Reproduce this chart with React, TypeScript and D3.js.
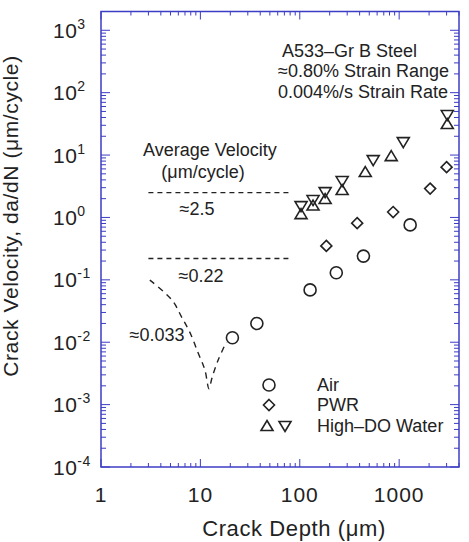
import React from "react";
import * as d3 from "d3";

// ---- data ----
const airX = [21, 37, 127, 233, 437, 1290];
const airY = [0.0118, 0.02, 0.069, 0.13, 0.24, 0.76];
const pwrX = [185, 378, 870, 2050, 3000];
const pwrY = [0.35, 0.81, 1.22, 2.9, 6.4];
const upX = [103, 136, 180, 267, 456, 832, 3050];
const upY = [1.13, 1.55, 1.97, 2.75, 5.34, 9.6, 31.4];
const downX = [103, 136, 180, 267, 548, 1100, 3050];
const downY = [1.52, 1.9, 2.55, 3.83, 8.3, 16.1, 43.8];

const avgLevels = [2.5, 0.22];
const avgRange = [3, 80];
const curveX = [3.1, 5.2, 6.5, 7.9, 9.5, 11.1, 12.2, 13.1, 15.1, 18.2];
const curveY = [0.099, 0.047, 0.025, 0.014, 0.0067, 0.0036, 0.0018, 0.0027, 0.0052, 0.01];

const xTickVals = [1, 10, 100, 1000];
const xTickLabels = ["1", "10", "100", "1000"];
const yTickExps = [-4, -3, -2, -1, 0, 1, 2, 3];

const W = 469, H = 542;
const L = 101, R = 459, T = 11.5, B = 467;
const FONT = "'Liberation Sans', Arial, Helvetica, sans-serif";
const BLUE = "#3c3cc4";
const INK = "#222";

export default function App() {
  const x = d3.scaleLog().domain([1, 4000]).range([L, R]);
  const y = d3.scaleLog().domain([1e-4, 2000]).range([B, T]);

  const xMinor: number[] = [];
  for (let d = 1; d <= 1000; d *= 10)
    for (let k = 2; k <= 9; k++) if (d * k <= 4000) xMinor.push(d * k);
  const yMinor: number[] = [];
  for (let e = -4; e <= 3; e++)
    for (let k = 2; k <= 9; k++) if (k * Math.pow(10, e) <= 2000) yMinor.push(k * Math.pow(10, e));

  const curveLine = d3
    .line<number>()
    .x((_, i) => x(curveX[i]))
    .y((v) => y(v))
    .curve(d3.curveCatmullRom.alpha(0.5));

  const tri = (cx: number, cy: number, up: boolean) => {
    const s = up ? 1 : -1;
    return `M${cx},${cy - 5.5 * s}L${cx + 6},${cy + 4.5 * s}L${cx - 6},${cy + 4.5 * s}Z`;
  };
  const dia = (cx: number, cy: number) =>
    `M${cx},${cy - 5.5}L${cx + 5.5},${cy}L${cx},${cy + 5.5}L${cx - 5.5},${cy}Z`;

  const mk = { fill: "none", stroke: INK, strokeWidth: 1.6 };

  return (
    <svg
      width={W}
      height={H}
      style={{ position: "absolute", left: 0, top: 0, background: "#fff" }}
      fontFamily={FONT}
    >
      <rect x={0} y={0} width={W} height={H} fill="#fff" />
      {/* ticks */}
      <g stroke={BLUE} strokeWidth={1}>
        {xTickVals.map((v) => (
          <g key={"xM" + v}>
            <line x1={x(v)} x2={x(v)} y1={B} y2={B - 8} />
            <line x1={x(v)} x2={x(v)} y1={T} y2={T + 8} />
          </g>
        ))}
        {xMinor.map((v) => (
          <g key={"xm" + v}>
            <line x1={x(v)} x2={x(v)} y1={B} y2={B - 4} />
            <line x1={x(v)} x2={x(v)} y1={T} y2={T + 4} />
          </g>
        ))}
        {yTickExps.map((e) => (
          <g key={"yM" + e}>
            <line x1={L} x2={L + 9} y1={y(Math.pow(10, e))} y2={y(Math.pow(10, e))} />
            <line x1={R} x2={R - 9} y1={y(Math.pow(10, e))} y2={y(Math.pow(10, e))} />
          </g>
        ))}
        {yMinor.map((v) => (
          <g key={"ym" + v}>
            <line x1={L} x2={L + 5} y1={y(v)} y2={y(v)} />
            <line x1={R} x2={R - 5} y1={y(v)} y2={y(v)} />
          </g>
        ))}
      </g>
      <rect x={L} y={T} width={R - L} height={B - T} fill="none" stroke={BLUE} strokeWidth={1.5} />

      {/* tick labels */}
      <g fill={INK} fontSize={21}>
        {xTickVals.map((v, i) => (
          <text key={"xl" + v} x={x(v)} y={502} textAnchor="middle" letterSpacing={1}>
            {xTickLabels[i]}
          </text>
        ))}
        {yTickExps.map((e) => (
          <text key={"yl" + e} x={53} y={y(Math.pow(10, e)) + 7.5} letterSpacing={0.5}>
            10
            <tspan dy={-9} fontSize={14}>
              {String(e)}
            </tspan>
          </text>
        ))}
      </g>

      {/* axis titles */}
      <text x={294} y={536} textAnchor="middle" fontSize={22} fill={INK} letterSpacing={0.6}>
        Crack Depth (μm)
      </text>
      <text
        transform={`translate(18,216) rotate(-90)`}
        textAnchor="middle"
        fontSize={21}
        fill={INK}
        letterSpacing={0.6}
      >
        Crack Velocity, da/dN (μm/cycle)
      </text>

      {/* average velocity lines */}
      <g stroke={INK} strokeWidth={1.4} strokeDasharray="5,4" fill="none">
        {avgLevels.map((lv) => (
          <line key={"av" + lv} x1={x(avgRange[0])} x2={x(avgRange[1])} y1={y(lv)} y2={y(lv)} />
        ))}
        <path d={curveLine(curveY) || ""} strokeDasharray="6,5" />
      </g>

      {/* annotations */}
      <g fill={INK} fontSize={18}>
        <text x={210} y={156} textAnchor="middle">Average Velocity</text>
        <text x={203} y={178} textAnchor="middle">(μm/cycle)</text>
        <text x={197} y={215} textAnchor="middle">≈2.5</text>
        <text x={201} y={282} textAnchor="middle">≈0.22</text>
        <text x={157} y={341} textAnchor="middle">≈0.033</text>
        <text x={282} y={57}>A533–Gr B Steel</text>
        <text x={278} y={77}>≈0.80% Strain Range</text>
        <text x={278} y={98}>0.004%/s Strain Rate</text>
      </g>

      {/* data markers */}
      <g {...mk}>
        {airX.map((v, i) => (
          <circle key={"a" + i} cx={x(v)} cy={y(airY[i])} r={6} />
        ))}
        {pwrX.map((v, i) => (
          <path key={"p" + i} d={dia(x(v), y(pwrY[i]))} />
        ))}
        {upX.map((v, i) => (
          <path key={"u" + i} d={tri(x(v), y(upY[i]), true)} />
        ))}
        {downX.map((v, i) => (
          <path key={"d" + i} d={tri(x(v), y(downY[i]), false)} />
        ))}
      </g>

      {/* legend */}
      <g {...mk}>
        <circle cx={269} cy={385} r={6} />
        <path d={dia(269, 405)} />
        <path d={tri(267, 426, true)} />
        <path d={tri(285, 426, false)} />
      </g>
      <g fill={INK} fontSize={18}>
        <text x={317} y={391}>Air</text>
        <text x={317} y={411}>PWR</text>
        <text x={317} y={432}>High–DO Water</text>
      </g>
    </svg>
  );
}
